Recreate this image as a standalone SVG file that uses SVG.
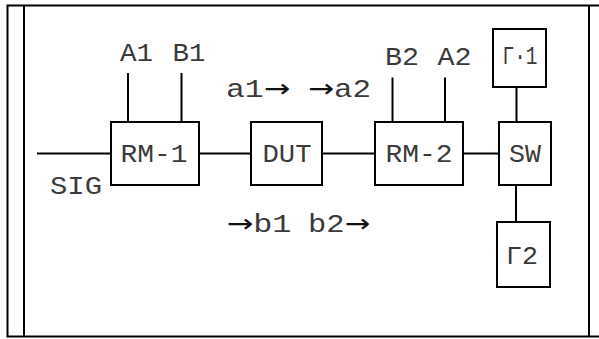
<svg xmlns="http://www.w3.org/2000/svg" width="599" height="339" viewBox="0 0 599 339">
<style>
.frame{fill:none;stroke:#000;stroke-width:2}
.box{fill:#fff;stroke:#000;stroke-width:2}
.ln{stroke:#000;stroke-width:2;fill:none}
text{font-family:"Liberation Mono","DejaVu Sans Mono",monospace;font-size:25px;fill:#3a3a3a}
.ar{font-family:"DejaVu Sans",sans-serif;fill:#111}
</style>
<rect width="599" height="339" fill="#fff"/>
<g id="frame">
<rect class="frame" x="7.5" y="5.5" width="600" height="331"/>
<line class="frame" x1="24" y1="5.5" x2="24" y2="336.5"/>
<line class="frame" x1="589" y1="5.5" x2="589" y2="336.5"/>
</g>
<g id="connectors">
<line class="ln" x1="37" y1="153.5" x2="111" y2="153.5"/>
<line class="ln" x1="199" y1="153.5" x2="251" y2="153.5"/>
<line class="ln" x1="322" y1="153.5" x2="375" y2="153.5"/>
<line class="ln" x1="463" y1="153.5" x2="499" y2="153.5"/>
<line class="ln" x1="128" y1="73" x2="128" y2="122"/>
<line class="ln" x1="181.5" y1="73" x2="181.5" y2="122"/>
<line class="ln" x1="392.5" y1="77.5" x2="392.5" y2="122"/>
<line class="ln" x1="445" y1="77.5" x2="445" y2="122"/>
<line class="ln" x1="516.5" y1="87" x2="516.5" y2="122"/>
<line class="ln" x1="516" y1="185" x2="516" y2="222"/>
</g>
<g id="labels">
<text x="120" y="61" textLength="33" lengthAdjust="spacingAndGlyphs">A1</text>
<text x="172.5" y="61" textLength="33" lengthAdjust="spacingAndGlyphs">B1</text>
<text x="385" y="65" textLength="34" lengthAdjust="spacingAndGlyphs">B2</text>
<text x="437.5" y="65" textLength="34" lengthAdjust="spacingAndGlyphs">A2</text>
<text x="50" y="194" textLength="52" lengthAdjust="spacingAndGlyphs">SIG</text>
<text x="226" y="97" textLength="64" lengthAdjust="spacingAndGlyphs">a1<tspan class="ar">→</tspan></text>
<text x="308" y="97" textLength="63" lengthAdjust="spacingAndGlyphs"><tspan class="ar">→</tspan>a2</text>
<text x="226.5" y="231.5" textLength="65" lengthAdjust="spacingAndGlyphs"><tspan class="ar">→</tspan>b1</text>
<text x="308" y="231.5" textLength="62" lengthAdjust="spacingAndGlyphs">b2<tspan class="ar">→</tspan></text>
</g>
<g id="RM-1">
<rect class="box" x="111" y="122" width="88" height="63"/>
<text x="120.5" y="161.5" textLength="67" lengthAdjust="spacingAndGlyphs">RM-1</text>
</g>
<g id="DUT">
<rect class="box" x="251" y="122" width="71" height="63"/>
<text x="262.5" y="161.5" textLength="49" lengthAdjust="spacingAndGlyphs">DUT</text>
</g>
<g id="RM-2">
<rect class="box" x="375" y="122" width="88" height="63"/>
<text x="385.5" y="161.5" textLength="67" lengthAdjust="spacingAndGlyphs">RM-2</text>
</g>
<g id="SW">
<rect class="box" x="499" y="122" width="52" height="63"/>
<text x="509" y="161.5" textLength="32" lengthAdjust="spacingAndGlyphs">SW</text>
</g>
<g id="G1">
<rect class="box" x="493" y="29" width="53" height="58"/>
<text x="502.5" y="63.5" textLength="35" lengthAdjust="spacingAndGlyphs">Γ·1</text>
</g>
<g id="G2">
<rect class="box" x="497" y="222" width="53" height="65"/>
<text x="506" y="264" textLength="32" lengthAdjust="spacingAndGlyphs">Γ2</text>
</g>
</svg>
